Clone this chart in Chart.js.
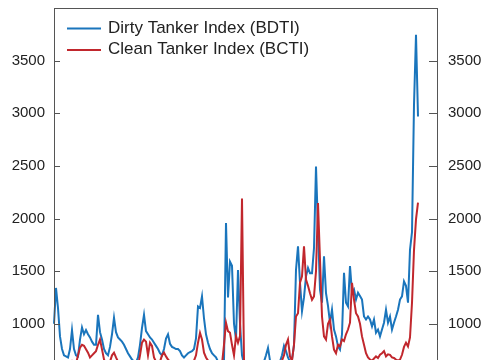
<!DOCTYPE html>
<html>
<head>
<meta charset="utf-8">
<script src="https://cdn.jsdelivr.net/npm/chart.js@4/dist/chart.umd.min.js"></script>
<style>
  html, body { margin: 0; padding: 0; background: #fff; overflow: hidden; }
  #wrap { width: 485px; height: 440px; position: relative; }
</style>
</head>
<body>
<div id="wrap"><canvas id="canvas"></canvas></div>
<script>
// weekly index values, one every step along the time axis
var bdti = [
    1000, 1340, 1150, 880, 760, 700, 690, 680, 760, 940,
    760, 700, 690, 850, 965, 900, 940, 900, 870, 830,
    800, 800, 1085, 920, 850, 760, 720, 700, 780, 900,
    1057, 920, 870, 850, 830, 800, 760, 720, 690, 660,
    640, 630, 680, 800, 960, 1085, 930, 900, 870, 850,
    820, 790, 760, 720, 700, 760, 860, 900, 810, 780,
    770, 760, 760, 740, 700, 680, 700, 720, 730, 740,
    760, 860, 1165, 1150, 1260, 1050, 900, 820, 760, 720,
    700, 680, 640, 620, 600, 650, 1957, 1250, 1590, 1550,
    1000, 850, 1510, 1000, 700, 620, 600, 580, 560, 570,
    590, 580, 600, 610, 620, 640, 700, 770, 650, 620,
    600, 590, 610, 640, 700, 790, 740, 680, 640, 660,
    800, 1513, 1735, 1390, 1120, 1250, 1450, 1530, 1480, 1480,
    1720, 2494, 1900, 1323, 1200, 1640, 1290, 1170, 1010, 1133,
    945, 880, 785, 755, 900, 1485, 1200, 1165, 1548, 1295,
    1326, 1230, 1295, 1263, 1230, 1069, 1040, 1069, 1040, 975,
    1040, 915, 945, 880, 945, 1010, 1133, 1010, 1069, 945,
    1010, 1069, 1133, 1230, 1260, 1402, 1360, 1200, 1703, 1870,
    3080, 3745, 2970
];
var bcti = [
    560, 560, 550, 540, 530, 540, 560, 580, 600, 640,
    600, 620, 700, 772, 800, 790, 757, 725, 680, 700,
    720, 740, 800, 850, 757, 660, 620, 600, 640, 700,
    725, 680, 640, 620, 600, 590, 580, 560, 550, 540,
    540, 560, 600, 700, 820, 850, 830, 700, 820, 790,
    680, 640, 620, 640, 700, 725, 690, 660, 640, 620,
    610, 600, 610, 620, 600, 590, 600, 610, 620, 630,
    650, 700, 820, 914, 850, 725, 680, 650, 630, 620,
    610, 600, 590, 600, 620, 800, 1010, 930, 914, 800,
    700, 883, 820, 883, 2190, 650, 600, 580, 560, 550,
    560, 570, 560, 580, 590, 600, 610, 620, 600, 590,
    580, 600, 620, 640, 650, 700, 800, 850, 690, 650,
    800, 1069, 1100, 1389, 1450, 1735, 1420, 1360, 1290, 1228,
    1260, 1500, 2147, 1610, 1069, 880, 850, 1000, 1040, 880,
    753, 720, 800, 785, 850, 835, 900, 945, 1010, 1389,
    1230, 1100, 1069, 1000, 880, 800, 720, 680, 660, 650,
    670, 690, 675, 705, 720, 740, 690, 710, 705, 680,
    675, 660, 650, 660, 705, 780, 820, 785, 870, 1200,
    1700, 1992, 2150
];
var weeks = Array.from({length: 193}, function(_, i) { return i; });
var seriesNames = ['Dirty Tanker Index (BDTI)', 'Clean Tanker Index (BCTI)'];
var seriesColors = ['#1a75bc', '#c1272d'];
var yMin = 0, yMax = 4000, yStep = 500;

var FONT = '"Liberation Sans", Arial, sans-serif';

var frame = {
    id: 'frame',
    afterDraw: function(chart) {
        var c = chart.ctx, a = chart.chartArea;
        c.save();
        c.strokeStyle = '#555';
        c.lineWidth = 1;
        c.strokeRect(Math.round(a.left) + 0.5, Math.round(a.top) + 0.5,
            Math.round(a.right - a.left) - 1, Math.round(a.bottom - a.top));
        // inward tick marks
        ['y', 'y2'].forEach(function(id) {
            var s = chart.scales[id];
            s.ticks.forEach(function(t) {
                var py = Math.round(s.getPixelForValue(t.value)) + 0.5;
                c.beginPath();
                if (id === 'y') { c.moveTo(a.left, py); c.lineTo(a.left + 6, py); }
                else { c.moveTo(a.right - 9, py); c.lineTo(a.right, py); }
                c.stroke();
            });
        });
        // legend inside the plot
        c.font = '17px ' + FONT;
        c.textBaseline = 'middle';
        c.fillStyle = '#222';
        seriesNames.forEach(function(name, i) {
            var ly = 28 + i * 21.5;
            c.strokeStyle = seriesColors[i];
            c.lineWidth = 2;
            c.beginPath();
            c.moveTo(67, ly + 0.5);
            c.lineTo(101, ly + 0.5);
            c.stroke();
            c.fillText(name, 108, ly);
        });
        c.restore();
    }
};

function keepTicks(scale) {
    scale.ticks = scale.ticks.filter(function(t) { return t.value > yMin && t.value < yMax; });
}
function plain(v) { return String(v); }

var ctx = document.getElementById('canvas').getContext('2d');
new Chart(ctx, {
    type: 'line',
    data: {
        labels: weeks,
        datasets: [{
            label: seriesNames[0],
            data: bdti,
            borderColor: seriesColors[0],
            borderWidth: 2,
            pointRadius: 0,
            tension: 0,
            order: 2,
            yAxisID: 'y'
        }, {
            label: seriesNames[1],
            data: bcti,
            borderColor: seriesColors[1],
            borderWidth: 2,
            pointRadius: 0,
            tension: 0,
            order: 1,
            yAxisID: 'y'
        }]
    },
    options: {
        responsive: true,
        maintainAspectRatio: false,
        animation: false,
        layout: { padding: { top: 8, bottom: 11, left: 0, right: 0 } },
        plugins: { legend: { display: false }, tooltip: { enabled: false } },
        scales: {
            x: { display: false, offset: false },
            y: {
                position: 'left',
                min: yMin, max: yMax,
                afterBuildTicks: keepTicks,
                afterFit: function(s) { s.width = 54; s.paddingTop = 0; s.paddingBottom = 0; },
                grid: { display: false, drawTicks: false },
                border: { display: false },
                ticks: { stepSize: yStep, padding: 9, color: '#222', callback: plain, font: { family: FONT, size: 15 } }
            },
            y2: {
                position: 'right',
                min: yMin, max: yMax,
                afterBuildTicks: keepTicks,
                afterFit: function(s) { s.width = 47; s.paddingTop = 0; s.paddingBottom = 0; },
                grid: { display: false, drawTicks: false },
                border: { display: false },
                ticks: { stepSize: yStep, padding: 10, color: '#222', callback: plain, font: { family: FONT, size: 15 } }
            }
        }
    },
    plugins: [frame]
});
</script>
</body>
</html>
